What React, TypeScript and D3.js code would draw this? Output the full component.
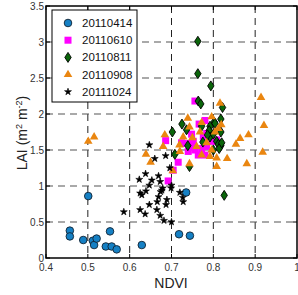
import * as d3 from 'd3';

// series values: [NDVI, LAI]
const s20110414: [number, number][] = [
  [0.457, 0.38], [0.457, 0.3], [0.489, 0.25], [0.501, 0.86], [0.512, 0.24], [0.515, 0.18],
  [0.521, 0.27], [0.543, 0.16], [0.553, 0.37], [0.557, 0.16], [0.569, 0.12], [0.629, 0.18],
  [0.718, 0.33], [0.744, 0.31], [0.735, 0.91],
];
const s20110610: [number, number][] = [
  [0.756, 2.18], [0.766, 1.86], [0.78, 1.91], [0.748, 1.72], [0.686, 1.63], [0.724, 1.6],
  [0.752, 1.62], [0.748, 1.55], [0.784, 1.55], [0.808, 1.64], [0.764, 1.43], [0.78, 1.43],
  [0.772, 1.52], [0.716, 1.33], [0.704, 1.22], [0.692, 1.07], [0.756, 1.5], [0.744, 1.59],
  [0.776, 1.69], [0.796, 1.62], [0.74, 1.48], [0.784, 1.73], [0.728, 1.59],
];
const s20110811: [number, number][] = [
  [0.763, 3.01], [0.763, 2.56], [0.794, 2.39], [0.764, 2.18], [0.77, 2.14], [0.822, 2.09],
  [0.818, 1.93], [0.725, 1.86], [0.736, 1.78], [0.772, 1.83], [0.802, 1.89], [0.792, 1.83],
  [0.79, 1.77], [0.818, 1.75], [0.702, 1.75], [0.739, 1.56], [0.792, 1.68], [0.808, 1.62],
  [0.818, 1.56], [0.812, 1.58], [0.708, 1.44], [0.743, 1.27], [0.826, 0.87], [0.804, 1.87],
  [0.8, 1.72], [0.814, 1.52], [0.8, 1.5], [0.786, 1.71], [0.82, 1.6], [0.775, 1.61],
];
const s20110908: [number, number][] = [
  [0.501, 1.62], [0.515, 1.68], [0.639, 1.44], [0.65, 1.33], [0.684, 1.71], [0.68, 1.55],
  [0.914, 2.23], [0.921, 1.84], [0.816, 2.15], [0.819, 1.85], [0.739, 1.94], [0.796, 1.96],
  [0.772, 1.88], [0.743, 1.82], [0.768, 1.75], [0.804, 1.75], [0.864, 1.66], [0.884, 1.71],
  [0.854, 1.58], [0.719, 1.57], [0.72, 1.48], [0.703, 1.21], [0.743, 1.31], [0.808, 1.27],
  [0.833, 1.38], [0.88, 1.31], [0.918, 1.47], [0.772, 1.43], [0.792, 1.41], [0.796, 1.5],
  [0.808, 1.39], [0.76, 1.55], [0.784, 1.6], [0.728, 1.68], [0.812, 1.8], [0.75, 1.67],
];
const s20111024: [number, number][] = [
  [0.586, 0.64], [0.623, 1.09], [0.638, 1.17], [0.625, 0.9], [0.639, 0.93], [0.625, 0.67],
  [0.637, 0.61], [0.647, 0.74], [0.647, 1.57], [0.653, 1.08], [0.66, 1.38], [0.686, 1.42],
  [0.669, 1.14], [0.673, 1.06], [0.679, 0.97], [0.677, 0.94], [0.669, 0.85], [0.666, 0.78],
  [0.665, 0.67], [0.673, 0.59], [0.682, 0.52], [0.7, 0.5], [0.689, 0.81], [0.687, 0.74],
  [0.699, 0.97], [0.7, 1.01], [0.696, 1.25], [0.72, 0.91], [0.727, 0.84], [0.728, 0.78],
  [0.647, 1.01], [0.629, 0.875], [0.674, 0.92],
];

const seriesNames = ['20110414', '20110610', '20110811', '20110908', '20111024'];
const xTicks = [0.4, 0.5, 0.6, 0.7, 0.8, 0.9, 1];
const yTicks = [0, 0.5, 1, 1.5, 2, 2.5, 3, 3.5];

const W = 298;
const H = 295;
const m = { left: 46, right: 297, top: 6, bottom: 258 };

const x = d3.scaleLinear().domain([0.4, 1]).range([m.left, m.right]);
const y = d3.scaleLinear().domain([0, 3.5]).range([m.bottom, m.top]);

const starPath = d3.symbol(d3.symbolStar, 15)()!;
const triPath = d3.symbol(d3.symbolTriangle, 32)()!;

function Marker({ kind, cx, cy }: { kind: number; cx: number; cy: number }) {
  const t = `translate(${cx},${cy})`;
  if (kind === 0)
    return <circle cx={cx} cy={cy} r={3.8} fill="#1580c4" stroke="#112233" strokeWidth={0.9} />;
  if (kind === 1) return <rect x={cx - 3.5} y={cy - 3.5} width={7} height={7} fill="#ff00ff" />;
  if (kind === 2)
    return (
      <path transform={t} d="M0,-5L3.2,0L0,5L-3.2,0Z" fill="#0a650a" stroke="#000" strokeWidth={0.9} />
    );
  if (kind === 3) return <path transform={t} d={triPath} fill="#ea8610" />;
  return <path transform={t} d={starPath} fill="#000" stroke="#000" strokeWidth={0.6} />;
}

export default function App() {
  const all = [s20110414, s20110610, s20110811, s20110908, s20111024];
  const font = 'Liberation Sans, Arial, sans-serif';
  return (
    <svg width={W} height={H} style={{ position: 'absolute', left: 0, top: 0, background: '#fff' }} fontFamily={font}>
      <rect x={0} y={0} width={W} height={H} fill="#fff" />
      {/* grid */}
      {xTicks.slice(1, -1).map((v) => (
        <line key={'gx' + v} x1={x(v)} x2={x(v)} y1={m.top} y2={m.bottom} stroke="#222" strokeWidth={1} strokeDasharray="7,5" />
      ))}
      {yTicks.slice(1, -1).map((v) => (
        <line key={'gy' + v} x1={m.left} x2={m.right} y1={y(v)} y2={y(v)} stroke="#555" strokeWidth={1.2} strokeDasharray="7,5" />
      ))}
      {/* points */}
      {all.map((s, k) => (
        <g key={k}>
          {s.map((d, i) => (
            <Marker key={i} kind={k} cx={x(d[0])} cy={y(d[1])} />
          ))}
        </g>
      ))}
      {/* frame + ticks */}
      <rect x={m.left} y={m.top} width={m.right - m.left} height={m.bottom - m.top} fill="none" stroke="#000" strokeWidth={1.5} />
      {xTicks.map((v) => (
        <g key={'tx' + v}>
          <line x1={x(v)} x2={x(v)} y1={m.bottom} y2={m.bottom - 4} stroke="#000" />
          <line x1={x(v)} x2={x(v)} y1={m.top} y2={m.top + 4} stroke="#000" />
          <text x={x(v)} y={271} fontSize={10} textAnchor="middle" fill="#333">
            {v}
          </text>
        </g>
      ))}
      {yTicks.map((v) => (
        <g key={'ty' + v}>
          <line x1={m.left} x2={m.left + 4} y1={y(v)} y2={y(v)} stroke="#000" />
          <line x1={m.right} x2={m.right - 4} y1={y(v)} y2={y(v)} stroke="#000" />
          <text x={44} y={y(v) + 4} fontSize={10} textAnchor="end" fill="#333">
            {v}
          </text>
        </g>
      ))}
      {/* axis labels */}
      <text x={171} y={288} fontSize={14} textAnchor="middle" fill="#222">
        NDVI
      </text>
      <text transform="translate(27,133) rotate(-90)" fontSize={14} textAnchor="middle" fill="#222">
        LAI (m
        <tspan fontSize={9} dy={-5}>2</tspan>
        <tspan dy={5}> m</tspan>
        <tspan fontSize={9} dy={-5}>-2</tspan>
        <tspan dy={5}>)</tspan>
      </text>
      {/* legend */}
      <rect x={52} y={10} width={85} height={92} fill="#fff" stroke="#000" strokeWidth={1} />
      {seriesNames.map((n, i) => {
        const ly = 23 + i * 17.2;
        return (
          <g key={n}>
            <Marker kind={i} cx={68} cy={ly} />
            <text x={82} y={ly + 4} fontSize={11.5} fill="#111">
              {n}
            </text>
          </g>
        );
      })}
    </svg>
  );
}
